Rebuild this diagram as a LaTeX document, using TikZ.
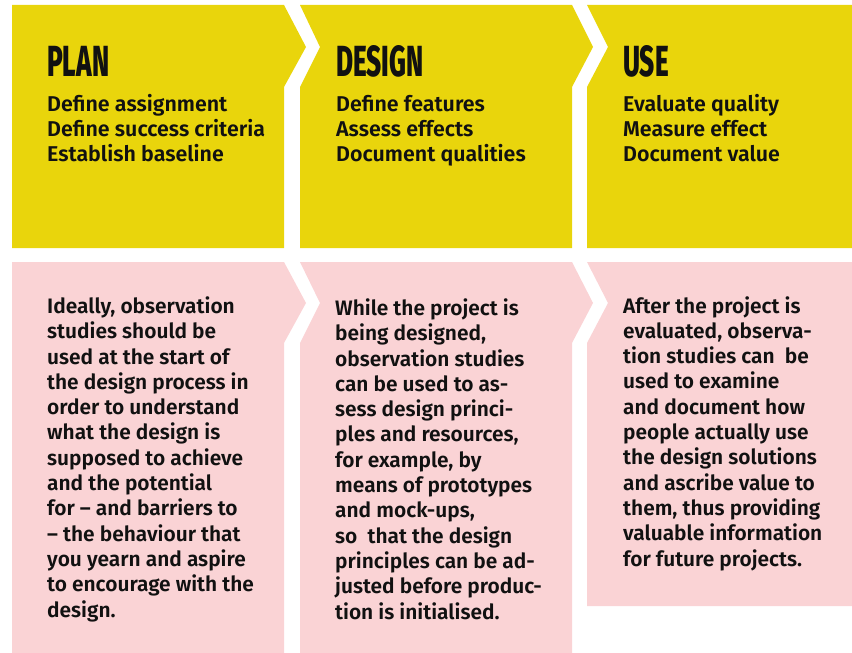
\documentclass[tikz,border=0pt]{standalone}
\usepackage{fontspec}
\setmainfont{Fira Sans SemiBold}
\newfontfamily\headfont{Fira Sans ExtraBold}[FakeStretch=0.6]
\definecolor{yel}{RGB}{233,213,12}
\definecolor{pnk}{RGB}{250,211,213}
\definecolor{ink}{RGB}{17,17,17}
\tikzset{
  ypanel/.style={fill=yel, draw=none},
  ppanel/.style={fill=pnk, draw=none},
  head/.style={anchor=base west, inner sep=0pt, text=ink,
    font=\headfont\fontsize{43.5bp}{44bp}\selectfont},
  items/.style={anchor=base west, inner sep=0pt, align=left, text=ink,
    font=\fontsize{21.4bp}{25bp}\selectfont},
  bodytext/.style={anchor=base west, inner sep=0pt, align=left, text=ink,
    font=\fontsize{20.9bp}{25.3bp}\selectfont},
}
\begin{document}
\begin{tikzpicture}[x=1bp,y=-1bp]
\useasboundingbox (0,0) rectangle (852,653);
% top row
\fill[ypanel] (12,5) -- (284,5) -- (306,47) -- (284,87) -- (284,248) -- (12,248) -- cycle;
\fill[ypanel] (300,5) -- (572,5) -- (593,47) -- (572,87) -- (572,248) -- (300,248) -- (300,87) -- (320,47) -- cycle;
\fill[ypanel] (587,5) -- (852,5) -- (852,248) -- (587,248) -- (587,87) -- (608,47) -- cycle;
% bottom row
\fill[ppanel] (12,262) -- (284,262) -- (306,303) -- (284,343) -- (284,653) -- (12,653) -- cycle;
\fill[ppanel] (300,262) -- (572,262) -- (593,303) -- (572,343) -- (572,653) -- (300,653) -- (300,343) -- (320,303) -- cycle;
\fill[ppanel] (587,262) -- (852,262) -- (852,606) -- (587,606) -- (587,343) -- (608,303) -- cycle;
% headings
\node[head] (hplan) at (47,77) {PLAN};
\node[head] (hdesign) at (336,77) {DESIGN};
\node[head] (huse) at (623,77) {USE};
% items (anchor = baseline of last line)
\node[items] (iplan) at (47,162) {Define assignment\\Define success criteria\\Establish baseline};
\node[items] (idesign) at (336,162) {Define features\\Assess effects\\Document qualities};
\node[items] (iuse) at (623,162) {Evaluate quality\\Measure effect\\Document value};
% body texts (anchor = baseline of last line)
\node[bodytext] (bplan) at (47,617) {Ideally, observation\\studies should be\\used at the start of\\the design process in\\order to understand\\what the design is\\supposed to achieve\\and the potential\\for -- and barriers to\\-- the behaviour that\\you yearn and aspire\\to encourage with the\\design.};
\node[bodytext] (bdesign) at (335,619) {While the project is\\being designed,\\observation studies\\can be used to as-\\sess design princi-\\ples and resources,\\for example, by\\means of prototypes\\and mock-ups,\\so\ \ that the design\\principles can be ad-\\justed before produc-\\tion is initialised.};
\node[bodytext] (buse) at (623,566) {After the project is\\evaluated, observa-\\tion studies can\ \ be\\used to examine\\and document how\\people actually use\\the design solutions\\and ascribe value to\\them, thus providing\\valuable information\\for future projects.};
\end{tikzpicture}
\end{document}
